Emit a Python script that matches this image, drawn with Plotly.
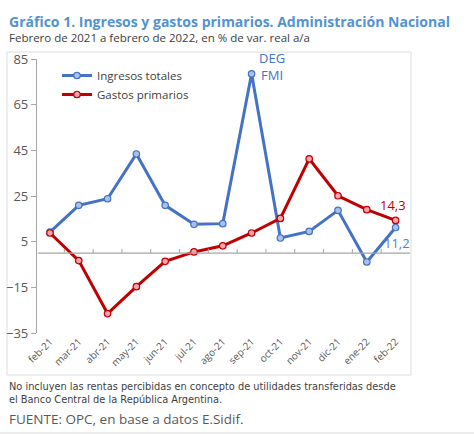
import plotly.graph_objects as go

meses = ["feb-21", "mar-21", "abr-21", "may-21", "jun-21", "jul-21", "ago-21",
         "sep-21", "oct-21", "nov-21", "dic-21", "ene-22", "feb-22"]
ingresos = [9.2, 20.9, 23.8, 43.4, 20.9, 12.6, 12.9, 78.5, 6.6, 9.5, 18.7, -3.9, 11.2]
gastos = [8.8, -3.3, -26.5, -14.7, -3.6, 0.5, 3.2, 8.8, 15.2, 41.3, 25.1, 19.0, 14.3]
y_ticks = [-35, -15, 5, 25, 45, 65, 85]

BLUE = "#4472C4"
RED = "#C00000"
GRAY = "#595959"
FONT = "Open Sans"

# plot area in pixels
L, R, T, B = 37, 410, 59, 333
W, H = 474, 435

def px(x):
    return (x - L) / (R - L)

def py(y):
    return (B - y) / (B - T)

fig = go.Figure()
fig.add_trace(go.Scatter(
    x=meses, y=ingresos, name="Ingresos totales", mode="lines+markers",
    line=dict(color=BLUE, width=3),
    marker=dict(size=6.5, color="#A9C1EA", line=dict(color=BLUE, width=1.2)),
))
fig.add_trace(go.Scatter(
    x=meses, y=gastos, name="Gastos primarios", mode="lines+markers",
    line=dict(color=RED, width=3),
    marker=dict(size=6.5, color="#F5A3AE", line=dict(color=RED, width=1.2)),
))

shapes = []
# frame around chart
shapes.append(dict(type="rect", xref="paper", yref="paper",
                   x0=px(7), x1=px(411), y0=py(375), y1=py(52),
                   line=dict(color="#DDDDDD", width=1), layer="below"))
# zero line
shapes.append(dict(type="line", xref="paper", yref="y", x0=px(38), x1=1, y0=0, y1=0,
                   line=dict(color="#A6A6A6", width=1.2)))
# category boundary ticks on zero line
for i in range(len(meses) - 1):
    shapes.append(dict(type="line", xref="x", yref="y", x0=i + 0.5, x1=i + 0.5,
                       y0=0, y1=1.8, line=dict(color="#A6A6A6", width=1)))
# bottom separator
shapes.append(dict(type="line", xref="paper", yref="paper", x0=px(0), x1=px(474),
                   y0=py(433), y1=py(433), line=dict(color="#E6E6E6", width=1.5)))

annotations = [
    dict(text="<b>Gráfico 1. Ingresos y gastos primarios. Administración Nacional</b>",
         xref="paper", yref="paper", x=px(7), y=py(21.5), xanchor="left", yanchor="middle",
         showarrow=False, font=dict(family=FONT, size=14, color="#5393D0")),
    dict(text="Febrero de 2021 a febrero de 2022, en % de var. real a/a",
         xref="paper", yref="paper", x=px(7), y=py(38), xanchor="left", yanchor="middle",
         showarrow=False, font=dict(family=FONT, size=11.5, color="#404040")),
    dict(text="No incluyen las rentas percibidas en concepto de utilidades transferidas desde<br>el Banco Central de la República Argentina.",
         xref="paper", yref="paper", x=px(7), y=py(392.5), xanchor="left", yanchor="middle",
         align="left", showarrow=False,
         font=dict(family="DejaVu Sans", size=9.8, color="#404040")),
    dict(text="FUENTE: OPC, en base a datos E.Sidif.",
         xref="paper", yref="paper", x=px(7), y=py(419), xanchor="left", yanchor="middle",
         showarrow=False, font=dict(family=FONT, size=13.5, color=GRAY)),
    dict(text="DEG<br>FMI", x=meses[7], y=ingresos[7], xref="x", yref="y",
         xshift=20, yshift=7, showarrow=False, align="center",
         font=dict(family=FONT, size=13, color=BLUE)),
    dict(text="14,3", x=meses[12], y=gastos[12], xref="x", yref="y",
         xshift=-3, yshift=15, showarrow=False,
         font=dict(family=FONT, size=13, color=RED)),
    dict(text="11,2", x=meses[12], y=ingresos[12], xref="x", yref="y",
         xshift=1, yshift=-15, showarrow=False,
         font=dict(family=FONT, size=13, color="#5B7FC7")),
]

fig.update_layout(
    width=W, height=H,
    margin=dict(l=L, r=W - R, t=T, b=H - B, autoexpand=False),
    paper_bgcolor="white", plot_bgcolor="white",
    font=dict(family=FONT, color=GRAY),
    showlegend=True,
    legend=dict(x=px(57), y=py(61), xanchor="left", yanchor="top",
                bgcolor="rgba(0,0,0,0)", font=dict(family=FONT, size=11.5, color="#404040"),
                tracegroupgap=0, itemwidth=30),
    shapes=shapes,
    annotations=annotations,
    xaxis=dict(type="category", range=[-0.45, 12.5], showgrid=False, zeroline=False,
               showline=False, ticks="", tickangle=-45, automargin=False,
               tickfont=dict(family=FONT, size=10, color=GRAY)),
    yaxis=dict(range=[-35, 85], tickvals=y_ticks, showgrid=False, zeroline=False,
               showline=True, linecolor="#A6A6A6", linewidth=1.2, automargin=False,
               ticks="outside", ticklen=5, tickcolor="#A6A6A6",
               tickfont=dict(family=FONT, size=13, color=GRAY)),
)

fig.write_html("out.html", config={"displayModeBar": False},
               post_script="document.body.style.margin='0';document.body.style.overflow='hidden';")
